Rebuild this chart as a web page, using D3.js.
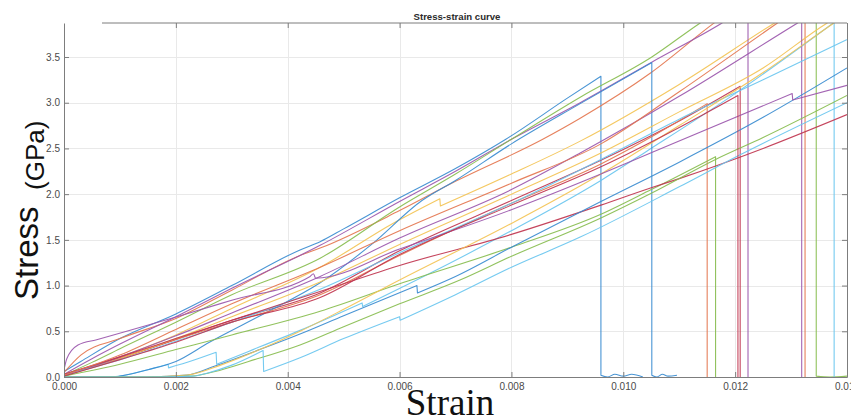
<!DOCTYPE html>
<html>
<head>
<meta charset="utf-8">
<script src="https://cdn.jsdelivr.net/npm/d3@7"></script>
<style>
  html, body { margin: 0; padding: 0; background: #fff; }
  svg { display: block; }
</style>
</head>
<body>
<svg id="chart" width="851" height="418"></svg>
<script>
// Each specimen: [strain (x 1e-3), stress (GPa)] samples, in test order.
const specimen01 = [[0,0.06],[0.3,0.17],[1,0.42],[2,0.69],[3,1.0],[4.22,1.39],[4.58,1.48],[5,1.62],[6,1.96],[7,2.28],[7.9,2.6],[9,3.05],[9.6,3.29],[9.6,0.02],[9.72,0.0],[9.85,0.03],[10.0,0.01],[10.15,0.03],[10.35,0.0]];
const specimen02 = [[0,0.05],[0.3,0.24],[1,0.42],[2,0.64],[3,0.95],[4.22,1.33],[4.58,1.41],[6,1.82],[7,2.14],[8.56,2.6],[9.23,2.83],[10.5,3.33],[11.62,3.87],[13.25,4.55],[13.25,0]];
const specimen03 = [[0,0.01],[1,0.22],[2,0.46],[3,0.75],[4.58,1.2],[5.88,1.68],[6.72,1.95],[6.73,1.87],[8,2.22],[9.23,2.58],[11,3.2],[12.7,3.87],[14,4.35]];
const specimen04 = [[0,0.03],[0.5,0.2],[1,0.36],[2,0.66],[3,0.97],[4.58,1.44],[6,1.92],[7,2.25],[8,2.6],[9.23,3.0],[10.5,3.44],[11.76,3.87],[12.23,4.05],[12.23,0]];
const specimen05 = [[0,0.02],[0.5,0.16],[1,0.31],[2,0.6],[3,0.9],[4.58,1.3],[6,1.86],[7,2.22],[8,2.6],[9.23,3.06],[10.51,3.5],[11.37,3.87],[13.45,4.6],[13.45,0.01],[13.7,0.0],[14,0.01]];
const specimen06 = [[0,0],[0.8,0],[1.0,0.01],[1.3,0.05],[1.86,0.14],[1.87,0.1],[2.3,0.18],[2.72,0.27],[2.73,0.14],[3.3,0.28],[4.22,0.51],[5.33,0.81],[5.34,0.77],[6.5,1.12],[8,1.6],[9.6,2.15],[10.42,2.47],[12,3.1],[13.75,3.87],[13.77,3.9],[13.77,0]];
const specimen07 = [[0,0.02],[1,0.2],[2,0.41],[3,0.62],[4.58,0.92],[6,1.38],[8,1.93],[9.6,2.37],[11,2.8],[12.09,3.18],[12.09,0]];
const specimen08 = [[0,0],[0.9,0],[1.0,0.01],[1.5,0.08],[2,0.17],[2.6,0.38],[3.6,0.7],[4.58,1.03],[5.5,1.45],[6.4,1.93],[7,2.15],[8,2.55],[9.23,2.99],[10.51,3.44],[10.51,0.02],[10.6,0.0],[10.7,0.03],[10.8,0.01],[10.96,0.02]];
const specimen09 = [[0,0.03],[1,0.21],[2,0.41],[3,0.6],[4.58,0.9],[6,1.33],[8,1.9],[9.6,2.33],[10.6,2.66],[11.5,2.99],[11.5,0]];
const specimen10 = [[0,0.01],[1,0.2],[2,0.42],[3,0.66],[4.58,1.04],[6,1.45],[8,2.0],[9.6,2.45],[11,2.9],[12.5,3.38],[13.64,3.87],[14,4.0]];
const specimen11 = [[0,0.02],[1,0.22],[2,0.45],[3,0.7],[4.58,1.1],[6,1.52],[8,2.05],[9.23,2.45],[11,3.07],[13.11,3.87],[13.19,3.9],[13.19,0]];
const specimen12 = [[0,0.01],[1,0.14],[2,0.3],[3,0.46],[4.58,0.72],[6,1.02],[8,1.42],[9.6,1.78],[10.5,2.05],[11.65,2.41],[11.65,0]];
const specimen13 = [[0,0.02],[1,0.19],[2,0.39],[3,0.6],[4.58,0.96],[6,1.36],[8,1.9],[9.6,2.38],[11,2.82],[12.5,3.25],[14,3.69]];
const specimen14 = [[0,0.03],[1,0.22],[2,0.42],[3,0.62],[4.7,0.96],[6,1.22],[8,1.56],[9.6,1.88],[10.5,2.07],[11,2.17],[12.5,2.5],[14,2.87]];
const specimen15 = [[0,0],[1.5,0],[2.2,0.02],[2.7,0.12],[3.5,0.3],[4.22,0.47],[5,0.67],[6.31,1.0],[6.32,0.92],[7,1.1],[8,1.42],[9.6,1.92],[11,2.35],[12.5,2.84],[14,3.38]];
const specimen16 = [[0,0.02],[1,0.24],[2,0.52],[3,0.8],[4.58,1.2],[6,1.6],[8,2.12],[9.6,2.55],[11,3.12],[12.75,3.87],[14,4.4]];
const specimen17 = [[0,0],[1.5,0],[2.2,0.02],[2.8,0.13],[3.5,0.3],[4.22,0.5],[5,0.74],[6,1.06],[8,1.68],[9.6,2.22],[11,2.75],[12.5,3.33],[13.76,3.87],[14,3.97]];
const specimen18 = [[0,0.08],[0.05,0.2],[0.25,0.35],[0.6,0.41],[1.12,0.5],[2.02,0.66],[3,0.84],[4.4,1.1],[4.46,1.13],[4.5,1.08],[6,1.4],[8,1.83],[9.6,2.22],[10.53,2.46],[13.02,3.1],[13.03,3.03],[14,3.19]];
const specimen19 = [[0,0],[1.5,0],[2.3,0.01],[2.7,0.06],[3.3,0.17],[4.22,0.35],[5,0.55],[6,0.8],[7.08,1.06],[8,1.32],[9.6,1.74],[10.5,2.01],[11.65,2.38],[12.5,2.62],[14,3.08]];
const specimen20 = [[0,0],[1.5,0],[2.3,0.01],[2.6,0.05],[3.0,0.13],[3.56,0.29],[3.57,0.06],[4.22,0.21],[5,0.42],[6.0,0.66],[6.01,0.62],[7,0.9],[8,1.2],[9.23,1.53],[11,2.08],[12.09,2.43],[14,3.0]];
const specimen21 = [[0,0.01],[1,0.19],[2,0.38],[3,0.6],[4.58,0.87],[6,1.34],[8,1.88],[9.6,2.3],[11,2.73],[12.05,3.08],[12.05,0]];

const specimens = [
  specimen01, specimen02, specimen03, specimen04, specimen05, specimen06, specimen07,
  specimen08, specimen09, specimen10, specimen11, specimen12, specimen13, specimen14,
  specimen15, specimen16, specimen17, specimen18, specimen19, specimen20, specimen21
];

// default line colour cycle, repeated for every group of seven specimens
const colorCycle = ["#3a8cd0", "#e4764f", "#f3c354", "#9b57ad", "#88bd4f", "#69c5ef", "#c0354f"];

const xTicks = [0, 0.002, 0.004, 0.006, 0.008, 0.010, 0.012, 0.014];
const yTicks = [0, 0.5, 1.0, 1.5, 2.0, 2.5, 3.0, 3.5];

const titleText = "Stress-strain curve";
const xLabelText = "Strain";
const yLabelMain = "Stress";
const yLabelUnit = "(GPa)";

const svg = d3.select("#chart");
const plot = { left: 64, right: 847, top: 23, bottom: 377 };

const x = d3.scaleLinear().domain([0, 0.014]).range([plot.left, plot.right]);
const y = d3.scaleLinear().domain([0, 3.872]).range([plot.bottom, plot.top]);

const sans = "'Liberation Sans', Arial, Helvetica, sans-serif";

// grid
const grid = svg.append("g").attr("stroke", "#e9e9e9").attr("stroke-width", 1);
grid.selectAll("line.gx").data(xTicks.slice(1)).join("line")
  .attr("x1", d => Math.round(x(d)) + 0.5).attr("x2", d => Math.round(x(d)) + 0.5)
  .attr("y1", plot.top).attr("y2", plot.bottom);
grid.selectAll("line.gy").data(yTicks.slice(1)).join("line")
  .attr("y1", d => Math.round(y(d)) + 0.5).attr("y2", d => Math.round(y(d)) + 0.5)
  .attr("x1", plot.left).attr("x2", plot.right);

// clip the curves to the plot box
svg.append("defs").append("clipPath").attr("id", "plotClip")
  .append("rect")
  .attr("x", plot.left).attr("y", plot.top)
  .attr("width", plot.right - plot.left).attr("height", plot.bottom - plot.top + 1);

// Smooth the loading branches; keep load drops (near-equal strain) as sharp steps.
const smoothLine = d3.line()
  .x(d => x(d[0] * 1e-3))
  .y(d => y(d[1]))
  .curve(d3.curveMonotoneX);

function specimenPath(points) {
  const runs = [];
  let run = [points[0]];
  for (let i = 1; i < points.length; i++) {
    if (points[i][0] - points[i - 1][0] <= 0.02) {
      runs.push(run);
      run = [points[i]];
    } else {
      run.push(points[i]);
    }
  }
  runs.push(run);
  return runs.map((r, i) => {
    const d = r.length > 1 ? smoothLine(r) : `M${x(r[0][0] * 1e-3)},${y(r[0][1])}`;
    return i === 0 ? d : "L" + d.slice(1);
  }).join("");
}

svg.append("g").attr("clip-path", "url(#plotClip)")
  .selectAll("path").data(specimens).join("path")
  .attr("d", specimenPath)
  .attr("fill", "none")
  .attr("stroke", (d, i) => colorCycle[i % colorCycle.length])
  .attr("stroke-width", 1.1)
  .attr("stroke-opacity", 0.92)
  .attr("stroke-linejoin", "round");

// axes, ticks pointing inward
const axisColor = "#7d7d7d";
function styleAxis(g, showLabels) {
  g.select(".domain").attr("stroke", axisColor);
  g.selectAll(".tick line").attr("stroke", axisColor);
  g.selectAll(".tick text")
    .attr("fill", "#4a4a4a")
    .style("font-family", sans)
    .style("font-size", "10px")
    .style("display", showLabels ? null : "none");
}

svg.append("g").attr("transform", `translate(0,${plot.bottom})`)
  .call(d3.axisBottom(x).tickValues(xTicks).tickFormat(d3.format(".3f")).tickSize(-5).tickPadding(6).tickSizeOuter(0))
  .call(g => styleAxis(g, true));

svg.append("g").attr("transform", `translate(${plot.left},0)`)
  .call(d3.axisLeft(y).tickValues(yTicks).tickFormat(d3.format(".1f")).tickSize(-5).tickPadding(4).tickSizeOuter(0))
  .call(g => styleAxis(g, true));

svg.append("g").attr("transform", `translate(${plot.right},0)`)
  .call(d3.axisRight(y).tickValues(yTicks).tickSize(-5).tickSizeOuter(0))
  .call(g => styleAxis(g, false));

const topAxis = svg.append("g").attr("transform", `translate(0,${plot.top})`)
  .call(d3.axisTop(x).tickValues(xTicks.slice(1)).tickSize(-5).tickSizeOuter(0))
  .call(g => styleAxis(g, false));
topAxis.select(".domain").remove();
svg.append("line")
  .attr("x1", plot.left + 38).attr("x2", plot.right)
  .attr("y1", plot.top).attr("y2", plot.top)
  .attr("stroke", axisColor);

// title
svg.append("text")
  .attr("x", 457).attr("y", 19.5)
  .attr("text-anchor", "middle")
  .style("font-family", sans).style("font-weight", "bold").style("font-size", "9.6px")
  .attr("fill", "#2b2b2b")
  .text(titleText);

// axis labels
svg.append("text")
  .attr("x", 450).attr("y", 415)
  .attr("text-anchor", "middle")
  .style("font-family", "'Liberation Serif', 'Times New Roman', serif")
  .style("font-size", "37px")
  .attr("fill", "#111")
  .text(xLabelText);

svg.append("text")
  .attr("transform", "translate(38,300) rotate(-90)")
  .attr("text-anchor", "start")
  .style("font-family", sans).style("font-size", "33px")
  .attr("fill", "#111")
  .text(yLabelMain);

svg.append("text")
  .attr("transform", "translate(44,190) rotate(-90)")
  .attr("text-anchor", "start")
  .style("font-family", sans).style("font-size", "26px")
  .attr("fill", "#111")
  .text(yLabelUnit);
</script>
</body>
</html>
